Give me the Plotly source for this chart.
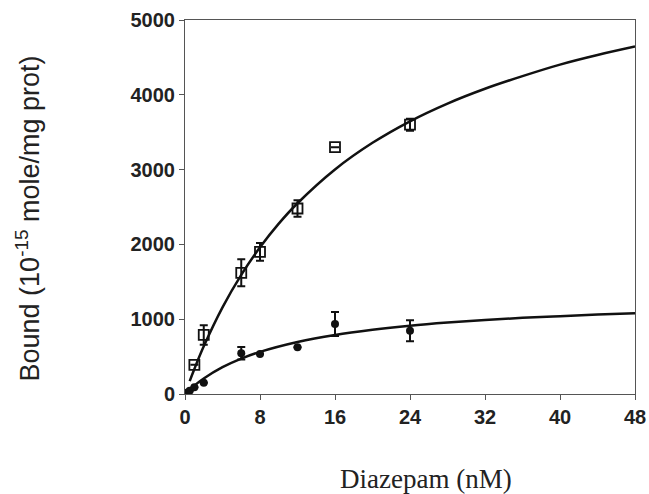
import plotly.graph_objects as go

# Open squares (series 1)
open_x = [1, 2, 6, 8, 12, 16, 24]
open_y = [390, 790, 1620, 1900, 2480, 3300, 3600]
open_err = [0, 130, 180, 120, 110, 0, 80]

# Filled circles (series 2)
filled_x = [0.25, 0.5, 1, 2, 6, 8, 12, 16, 24]
filled_y = [20, 45, 90, 150, 545, 535, 625, 935, 845]
filled_err = [0, 0, 0, 0, 85, 0, 0, 160, 140]

# Fitted curves
fit_open_x = [0.5, 1, 2, 4, 6, 8, 10, 12, 16, 20, 24, 28, 32, 36, 40, 44, 48]
fit_open_y = [172, 335, 637, 1158, 1593, 1961, 2277, 2550, 3002, 3358, 3646, 3883, 4081, 4250, 4404, 4532, 4645]
fit_filled_x = [0, 1, 2, 4, 6, 8, 12, 16, 20, 24, 28, 32, 36, 40, 44, 48]
fit_filled_y = [0, 112, 207, 358, 473, 563, 695, 790, 859, 913, 955, 989, 1018, 1041, 1062, 1080]

x_ticks = [0, 8, 16, 24, 32, 40, 48]
y_ticks = [0, 1000, 2000, 3000, 4000, 5000]

fig = go.Figure()
fig.add_trace(go.Scatter(x=fit_open_x, y=fit_open_y, mode="lines", line=dict(color="#111", width=2.5, shape="spline"),
                         showlegend=False, hoverinfo="skip"))
fig.add_trace(go.Scatter(x=fit_filled_x, y=fit_filled_y, mode="lines", line=dict(color="#111", width=2.5, shape="spline"),
                         showlegend=False, hoverinfo="skip"))
fig.add_trace(go.Scatter(x=open_x, y=open_y, mode="markers",
                         marker=dict(symbol="square-open", size=10, color="#111", line=dict(width=1.8)),
                         error_y=dict(type="data", array=open_err, color="#111", thickness=2, width=4),
                         showlegend=False))
fig.add_trace(go.Scatter(x=filled_x, y=filled_y, mode="markers",
                         marker=dict(symbol="circle", size=8, color="#111"),
                         error_y=dict(type="data", array=filled_err, color="#111", thickness=2, width=4),
                         showlegend=False))

tick_font = dict(family="Liberation Sans, Arial, sans-serif", size=20, color="#222", weight="bold")
fig.update_layout(
    width=649, height=494,
    margin=dict(l=185, r=14, t=20, b=100, autoexpand=False),
    paper_bgcolor="white", plot_bgcolor="white",
    font=dict(family="Liberation Sans, Arial, sans-serif", color="#222"),
    xaxis=dict(range=[0, 48], tickvals=x_ticks, ticktext=[str(v) for v in x_ticks], automargin=False,
               showgrid=False, zeroline=False, showline=True, linecolor="#555", linewidth=1, mirror=True,
               ticks="outside", ticklen=5, tickcolor="#555", tickfont=tick_font),
    yaxis=dict(range=[0, 5000], tickvals=y_ticks, ticktext=[str(v) for v in y_ticks], automargin=False,
               showgrid=False, zeroline=False, showline=True, linecolor="#555", linewidth=1, mirror=True,
               ticks="outside", ticklen=5, tickcolor="#555", tickfont=tick_font),
    annotations=[
        dict(text="Diazepam (nM)", xref="paper", yref="paper", x=0.536, y=-0.227, xanchor="center", yanchor="middle",
             showarrow=False, font=dict(family="Liberation Serif, Times New Roman, serif", size=27, color="#222")),
        dict(text="Bound (10<sup>-15</sup> mole/mg prot)", xref="paper", yref="paper", x=-0.35, y=0.468,
             xanchor="center", yanchor="middle", textangle=-90, showarrow=False,
             font=dict(family="Liberation Sans, Arial, sans-serif", size=27, color="#222")),
    ],
)

fig.write_html("out.html", config={"displayModeBar": False},
               post_script="document.body.style.margin='0';document.body.style.overflow='hidden';")
